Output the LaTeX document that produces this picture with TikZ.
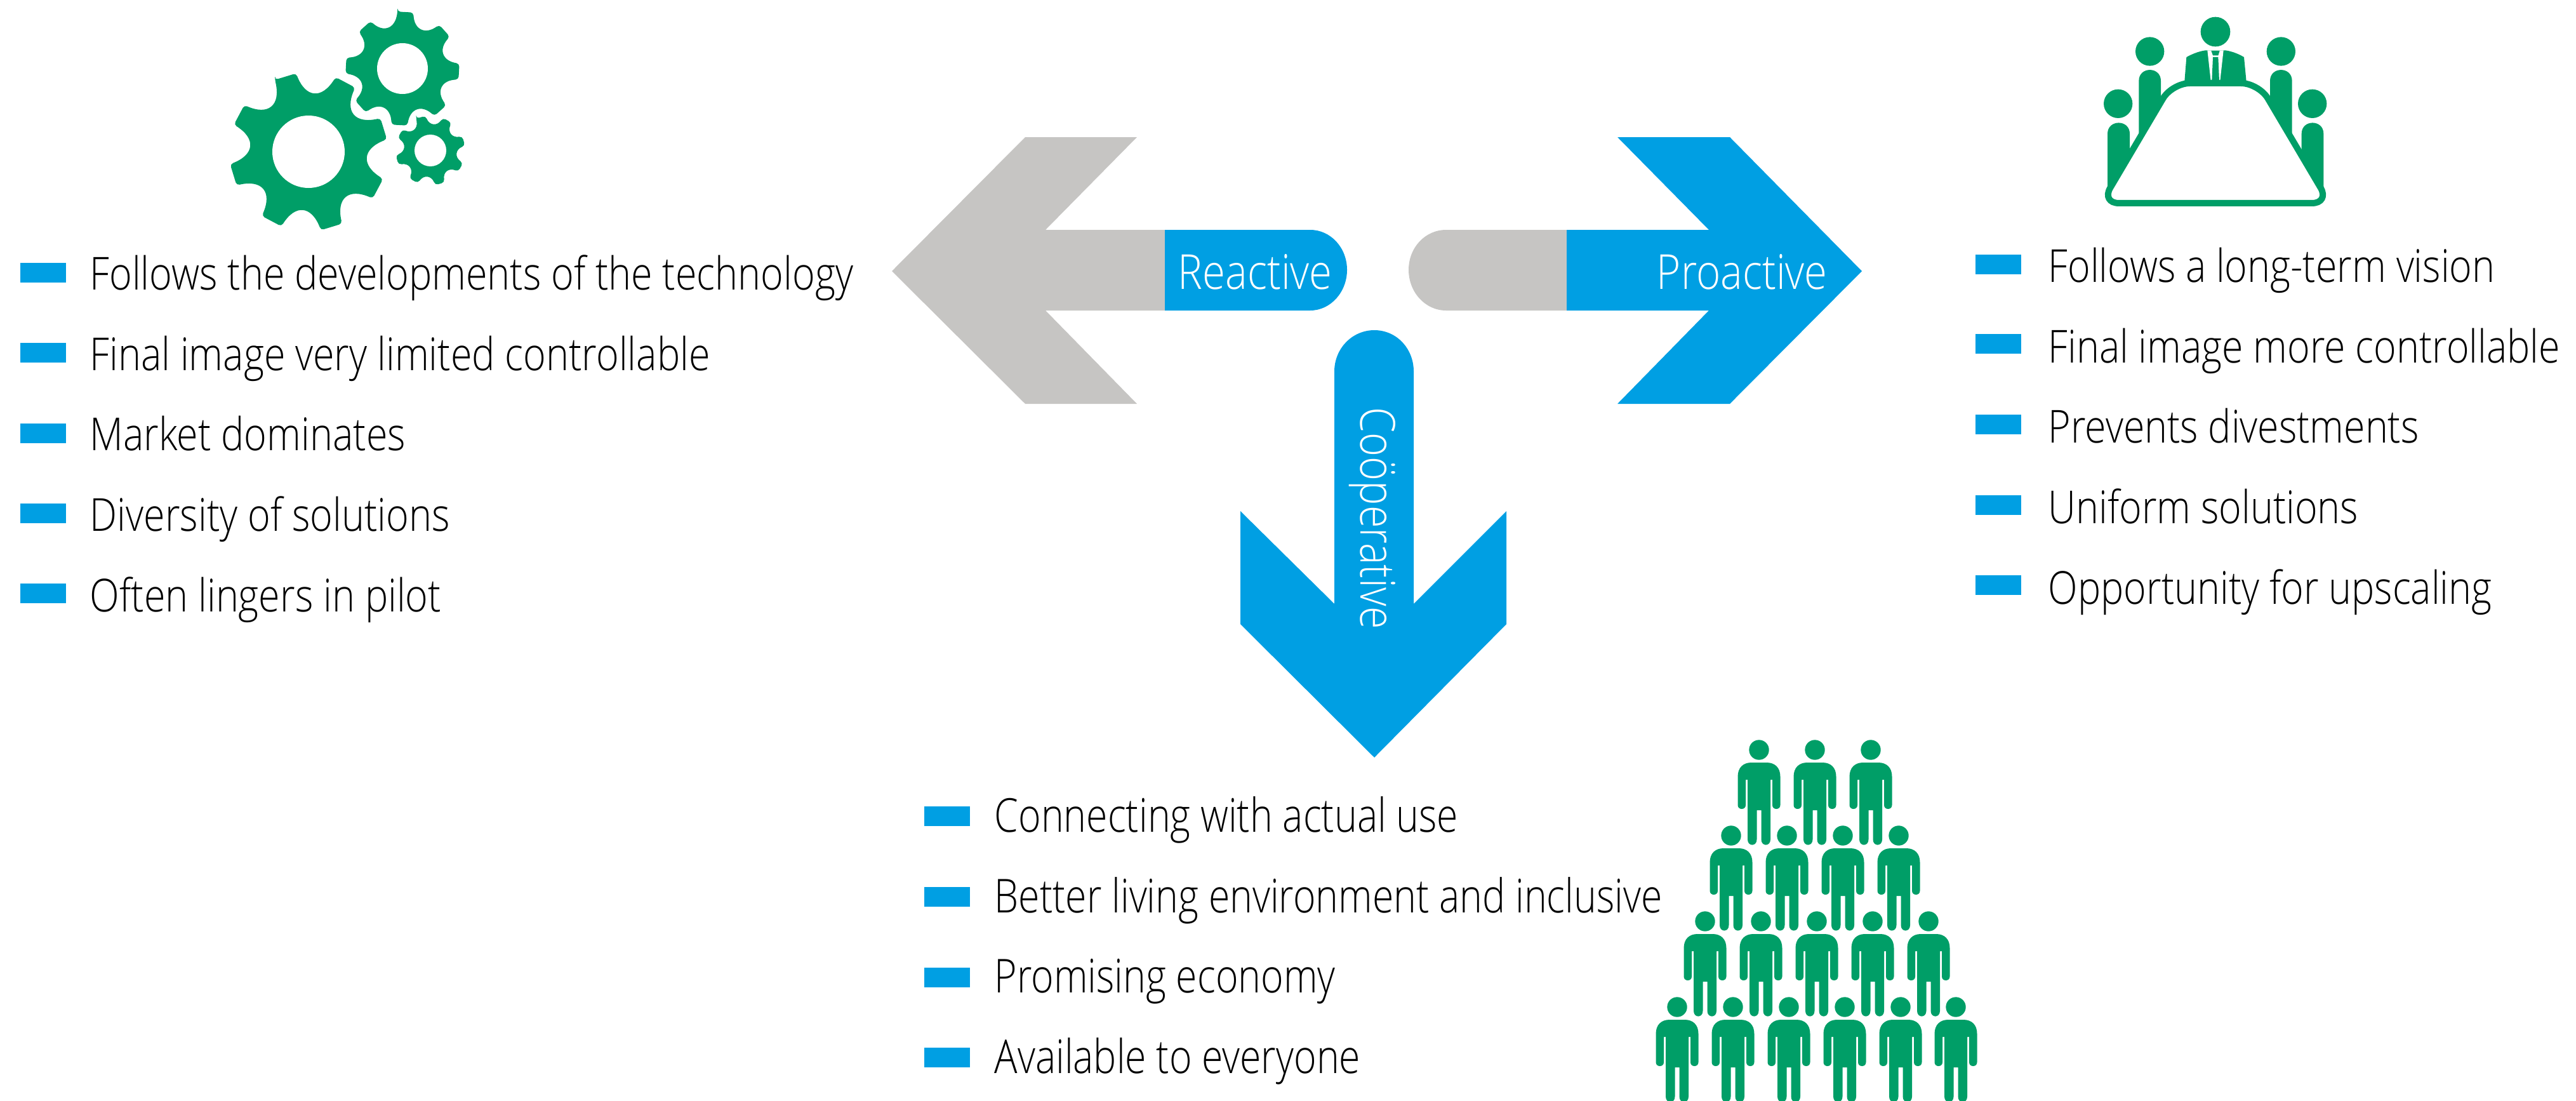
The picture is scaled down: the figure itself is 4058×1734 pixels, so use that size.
\documentclass[tikz,border=0pt]{standalone}
\usepackage{fontspec}
\setmainfont{Open Sans Light}
\newfontfamily\leftface[FakeStretch=0.852]{Open Sans Light}
\newfontfamily\rightface[FakeStretch=0.85]{Open Sans Light}
\newfontfamily\midface[FakeStretch=0.825]{Open Sans Light}
\newfontfamily\tagface[FakeStretch=0.86]{Open Sans Light}
\newfontfamily\downface[FakeStretch=0.85]{Open Sans Light}
\definecolor{capblue}{RGB}{0,159,227}
\definecolor{capgrey}{RGB}{198,197,195}
\definecolor{icongreen}{RGB}{0,158,103}
\definecolor{inktext}{RGB}{0,0,0}
\tikzset{
  barmark/.style={fill=capblue,draw=none,inner sep=0pt,minimum width=18pt,minimum height=7.75pt},
  itemtext/.style={anchor=base west,inner sep=0pt,text=inktext},
  tagtext/.style={anchor=base west,inner sep=0pt,text=white,font=\tagface\fontsize{19pt}{25pt}\selectfont},
  iconfill/.style={fill=icongreen,draw=none}
}
\newcommand{\baritem}[7]{%
  \node[barmark] (#1b) at (#2,#3) {};
  \node[itemtext,font=#7] (#1t) at (#4,#5) {#6};
}
\newcommand{\gearicon}[6]{%
  \fill[iconfill,even odd rule,shift={(#1,#2)},rounded corners=1.2pt]
    ({#6-8}:#3)
    \foreach \k in {0,...,7} {
      -- ({#6+45*\k+8}:#3)
      .. controls ({#6+45*\k+14}:#4) and ({#6+45*\k+31}:#4) .. ({#6+45*\k+37}:#3)
    } -- cycle;
  \fill[white,shift={(#1,#2)}] (0,0) circle[radius=#5];
}
\newcommand{\personicon}[2]{%
  \begin{scope}[shift={(#1,#2)}]
    \fill[iconfill] (0,0) circle[radius=15.7];
    \fill[iconfill] (-33.5,42) .. controls (-33.5,28) and (-25,20) .. (-12,20)
      -- (12,20) .. controls (25,20) and (33.5,28) .. (33.5,42)
      -- (33.5,87) .. controls (33.5,95) and (21,95) .. (21,87)
      -- (21,47) -- (18,47) -- (18,141)
      .. controls (18,152.5) and (3.5,152.5) .. (3.5,141)
      -- (3.5,95) -- (-3.5,95) -- (-3.5,141)
      .. controls (-3.5,152.5) and (-18,152.5) .. (-18,141)
      -- (-18,47) -- (-21,47) -- (-21,87)
      .. controls (-21,95) and (-33.5,95) .. (-33.5,87) -- cycle;
  \end{scope}
}
\newcommand{\bodypill}[4]{% left right top bottom (zoom units)
  \fill[iconfill] (#1,#4) -- (#1,#3+52) .. controls (#1,#3-17) and (#2,#3-17) .. (#2,#3+52) -- (#2,#4) -- cycle;
}
\begin{document}
\begin{tikzpicture}[x=0.25pt,y=-0.25pt]
\useasboundingbox (0,0) rectangle (4058,1734);
\clip (0,0) rectangle (4058,1734);

% left arrow
\fill[capgrey] (1405,427) -- (1615,216) -- (1791,216) -- (1647,362) -- (1835,362)
  -- (1835,489) -- (1647,489) -- (1791,636) -- (1615,636) -- cycle;
\fill[capblue] (1835,362) -- (2064,362) .. controls (2096,362) and (2122,390) .. (2122,425)
  .. controls (2122,460) and (2096,489) .. (2064,489) -- (1835,489) -- cycle;
% right arrow
\fill[capgrey] (2468,362) -- (2278,362) .. controls (2245,362) and (2219,390) .. (2219,425)
  .. controls (2219,460) and (2245,489) .. (2278,489) -- (2468,489) -- cycle;
\fill[capblue] (2468,362) -- (2692,362) -- (2548,216) -- (2725,216) -- (2933,427)
  -- (2725,636) -- (2548,636) -- (2692,489) -- (2468,489) -- cycle;
% down arrow
\fill[capblue] (2102,585) .. controls (2102,549) and (2130,520) .. (2165,520)
  .. controls (2200,520) and (2227,549) .. (2227,585)
  -- (2227,951) -- (2373,805) -- (2373,983) -- (2165,1193) -- (1954,983) -- (1954,805) -- (2102,951) -- cycle;

\node[tagtext] (reactive) at (1855,455) {Reactive};
\node[tagtext] (proactive) at (2609,455) {Proactive};
\node[tagtext,rotate=-90,font=\downface\fontsize{19pt}{25pt}\selectfont] (cooperative) at (2143,641) {Coöperative};

% left list
\def\lf{\leftface\fontsize{17.9pt}{24pt}\selectfont}
\baritem{la}{68}{429.5}{141}{456}{Follows the developments of the technology}{\lf}
\baritem{lb}{68}{555.5}{141}{583}{Final image very limited controllable}{\lf}
\baritem{lc}{68}{682}{141}{709}{Market dominates}{\lf}
\baritem{ld}{68}{808}{141}{836}{Diversity of solutions}{\lf}
\baritem{le}{68}{934}{141}{963}{Often lingers in pilot}{\lf}
% right list
\def\rf{\rightface\fontsize{17.9pt}{24pt}\selectfont}
\baritem{ra}{3148}{416}{3226}{444}{Follows a long-term vision}{\rf}
\baritem{rb}{3148}{541.5}{3226}{571}{Final image more controllable}{\rf}
\baritem{rc}{3148}{668}{3226}{697}{Prevents divestments}{\rf}
\baritem{rd}{3148}{795}{3226}{824}{Uniform solutions}{\rf}
\baritem{re}{3148}{921}{3226}{951}{Opportunity for upscaling}{\rf}
% bottom list
\def\mf{\midface\fontsize{18.4pt}{24pt}\selectfont}
\baritem{ma}{1492}{1285}{1566}{1310}{Connecting with actual use}{\mf}
\baritem{mb}{1492}{1412}{1566}{1437}{Better living environment and inclusive}{\mf}
\baritem{mc}{1492}{1539}{1566}{1563}{Promising economy}{\mf}
\baritem{md}{1492}{1665}{1566}{1690}{Available to everyone}{\mf}

% gears
\gearicon{486}{239}{125}{85}{57}{-107}
\gearicon{634}{108}{90}{64}{40}{-87}
\gearicon{678}{237}{55}{39.5}{25}{-106}

% meeting icon (coordinates in thirds of a pixel)
\begin{scope}[shift={(3250,0)},x=0.0833333pt,y=-0.0833333pt]
  \fill[iconfill] (720,150) circle[radius=70];
  \fill[iconfill] (410,243) circle[radius=68];
  \fill[iconfill] (1030,243) circle[radius=68];
  \fill[iconfill] (260,490) circle[radius=68];
  \fill[iconfill] (1178,490) circle[radius=68];
  \bodypill{358}{462}{330}{720}
  \bodypill{978}{1082}{330}{720}
  \bodypill{210}{315}{580}{905}
  \bodypill{1127}{1231}{580}{905}
  \fill[iconfill] (573,395) -- (583,270) .. controls (610,255) and (640,243) .. (672,238)
    -- (768,238) .. controls (800,243) and (830,255) .. (855,270) -- (867,395) -- cycle;
  \fill[white] (682,238) -- (758,238) -- (742,382) -- (698,382) -- cycle;
  \fill[iconfill] (700,240) -- (740,240) -- (733,262) -- (708,262) -- cycle;
  \fill[iconfill] (708,270) -- (733,270) -- (738,382) -- (703,382) -- cycle;
  \draw[icongreen,fill=white,line width=2.5pt,rounded corners=7pt]
    (515,393) -- (925,393) -- (1260,960) -- (180,960) -- cycle;
\end{scope}

% crowd
\foreach \hx in {2771,2859,2947} {\personicon{\hx}{1181}}
\foreach \hx in {2727,2815,2903,2991} {\personicon{\hx}{1316}}
\foreach \hx in {2686,2774,2862,2950,3038} {\personicon{\hx}{1451}}
\foreach \hx in {2642,2730,2818,2906,2994,3081} {\personicon{\hx}{1586}}
\end{tikzpicture}
\end{document}
